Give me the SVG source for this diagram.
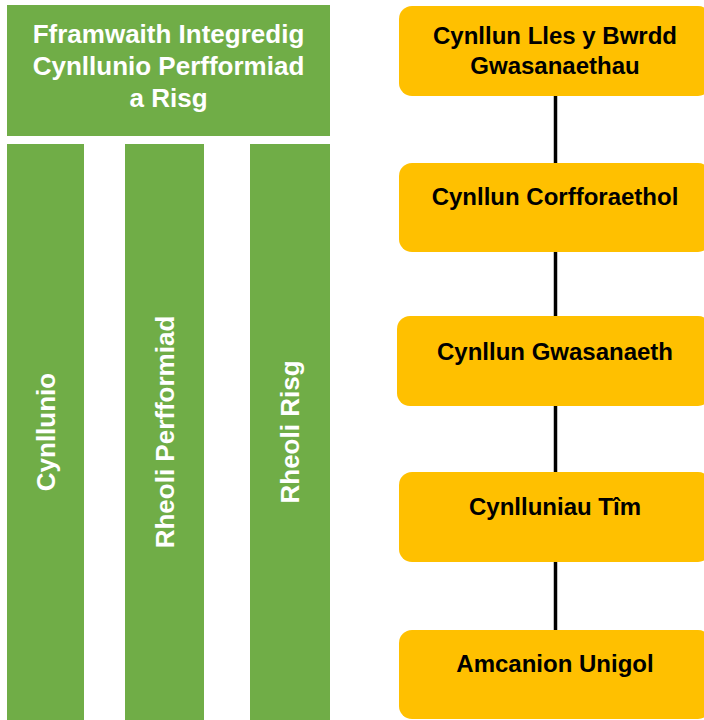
<svg xmlns="http://www.w3.org/2000/svg" width="704" height="720" viewBox="0 0 704 720">
<style>
.g{fill:#70AD47}
.o{fill:#FFC000}
.wt{font-family:"Liberation Sans",Arial,sans-serif;font-weight:bold;font-size:26px;fill:#fff;text-anchor:middle}
.bt{font-family:"Liberation Sans",Arial,sans-serif;font-weight:bold;font-size:24px;fill:#000;text-anchor:middle}
.c{stroke:#000;stroke-width:3.5;fill:none}
</style>
<rect width="704" height="720" fill="#fff"/>
<g id="title">
<rect class="g" x="7" y="5" width="323" height="131"/>
<text class="wt" x="168.5" y="42.5">Fframwaith Integredig</text>
<text class="wt" x="168.5" y="74.5">Cynllunio Perfformiad</text>
<text class="wt" x="168.5" y="107">a Risg</text>
</g>
<g id="col-cynllunio">
<rect class="g" x="7" y="144" width="77" height="580"/>
<text class="wt" transform="translate(54.5,432) rotate(-90)">Cynllunio</text>
</g>
<g id="col-perfformiad">
<rect class="g" x="125" y="144" width="79" height="580"/>
<text class="wt" transform="translate(174,432) rotate(-90)">Rheoli Perfformiad</text>
</g>
<g id="col-risg">
<rect class="g" x="250" y="144" width="80" height="580"/>
<text class="wt" transform="translate(298.5,432) rotate(-90)">Rheoli Risg</text>
</g>
<g id="connectors">
<line class="c" x1="555.5" y1="96" x2="555.5" y2="163"/>
<line class="c" x1="555.5" y1="252" x2="555.5" y2="316"/>
<line class="c" x1="555.5" y1="406" x2="555.5" y2="472"/>
<line class="c" x1="555.5" y1="562" x2="555.5" y2="630"/>
</g>
<g id="n1">
<rect class="o" x="399" y="6" width="312" height="90" rx="13"/>
<text class="bt" x="555" y="44">Cynllun Lles y Bwrdd</text>
<text class="bt" x="555" y="74">Gwasanaethau</text>
</g>
<g id="n2">
<rect class="o" x="399" y="163" width="312" height="89" rx="13"/>
<text class="bt" x="555" y="205">Cynllun Corfforaethol</text>
</g>
<g id="n3">
<rect class="o" x="397" y="316" width="314" height="90" rx="13"/>
<text class="bt" x="555" y="360">Cynllun Gwasanaeth</text>
</g>
<g id="n4">
<rect class="o" x="399" y="472" width="312" height="90" rx="13"/>
<text class="bt" x="555" y="515">Cynlluniau Tîm</text>
</g>
<g id="n5">
<rect class="o" x="399" y="630" width="312" height="89" rx="13"/>
<text class="bt" x="555" y="672">Amcanion Unigol</text>
</g>
</svg>
